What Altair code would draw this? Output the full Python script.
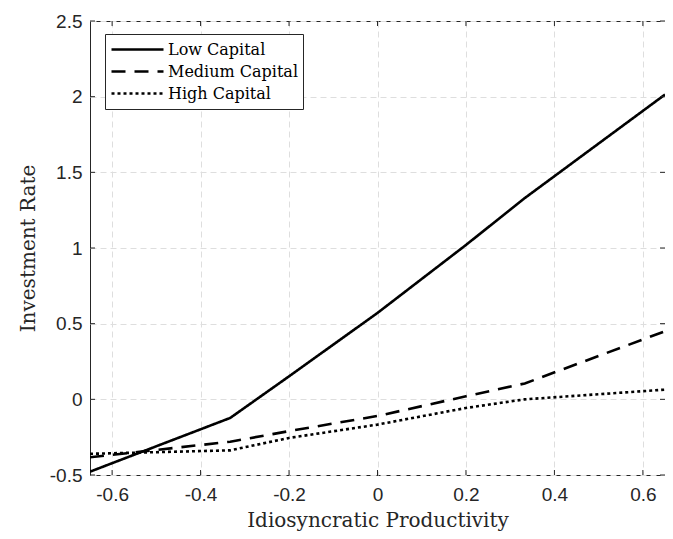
import altair as alt
import pandas as pd

# ---- data ----
x_vals = [-0.65, -0.333, -0.2, 0.0, 0.2, 0.333, 0.65]
low_capital = [-0.478, -0.123, 0.152, 0.571, 1.02, 1.33, 2.014]
medium_capital = [-0.383, -0.28, -0.21, -0.11, 0.02, 0.105, 0.45]
high_capital = [-0.36, -0.337, -0.255, -0.167, -0.057, 0.0, 0.064]
series_names = ["Low Capital", "Medium Capital", "High Capital"]
x_ticks = [-0.6, -0.4, -0.2, 0, 0.2, 0.4, 0.6]
y_ticks = [-0.5, 0, 0.5, 1, 1.5, 2, 2.5]

rows = []
for name, vals in zip(series_names, [low_capital, medium_capital, high_capital]):
    for xv, yv in zip(x_vals, vals):
        rows.append({"x": xv, "y": yv, "series": name})
df = pd.DataFrame(rows)
df_xt = pd.DataFrame({"x": x_ticks})
df_yt = pd.DataFrame({"y": y_ticks})

W, H = 575, 454
TICK = 5
AX = "#262626"
LABEL_EXPR = "replace(format(datum.value, '.1~f'), '\u2212', '-')"

xscale = alt.Scale(domain=[-0.65, 0.65], nice=False, zero=False)
yscale = alt.Scale(domain=[-0.5, 2.5], nice=False, zero=False)

xaxis = alt.Axis(values=x_ticks, title="Idiosyncratic Productivity", grid=True,
                 gridDash=[6, 4], gridColor="#dedede", gridWidth=1,
                 ticks=False, domain=False, labelPadding=10, titlePadding=6,
                 labelFlush=False, labelExpr=LABEL_EXPR)
yaxis = alt.Axis(values=y_ticks, title="Investment Rate", grid=True,
                 gridDash=[6, 4], gridColor="#dedede", gridWidth=1,
                 ticks=False, domain=False, labelPadding=8, titlePadding=11,
                 labelFlush=False, labelExpr=LABEL_EXPR)

lines = alt.Chart(df).mark_line(color="black", strokeWidth=2.6, clip=True).encode(
    x=alt.X("x:Q", scale=xscale, axis=xaxis),
    y=alt.Y("y:Q", scale=yscale, axis=yaxis),
    strokeDash=alt.StrokeDash(
        "series:N",
        scale=alt.Scale(domain=series_names, range=[[1, 0], [14, 9], [3, 3]]),
        legend=alt.Legend(title=None, orient="none", legendX=15, legendY=13,
                          symbolType="stroke", symbolSize=2704,
                          symbolStrokeWidth=2.6, symbolStrokeColor="black",
                          labelFont="DejaVu Serif", labelFontSize=16,
                          labelColor="black", strokeColor=AX, fillColor="white",
                          padding=5, rowPadding=1, clipHeight=21, labelOffset=3),
    ),
)

xt = alt.Chart(df_xt)
yt = alt.Chart(df_yt)
xs = alt.X("x:Q", scale=xscale, axis=xaxis)
ys = alt.Y("y:Q", scale=yscale, axis=yaxis)
tick_b = xt.mark_rule(color=AX, strokeWidth=1).encode(x=xs, y=alt.value(H), y2=alt.value(H - TICK))
tick_t = xt.mark_rule(color=AX, strokeWidth=1).encode(x=xs, y=alt.value(0), y2=alt.value(TICK))
tick_l = yt.mark_rule(color=AX, strokeWidth=1).encode(y=ys, x=alt.value(0), x2=alt.value(TICK))
tick_r = yt.mark_rule(color=AX, strokeWidth=1).encode(y=ys, x=alt.value(W), x2=alt.value(W - TICK))

chart = alt.layer(lines, tick_b, tick_t, tick_l, tick_r).properties(
    width=W, height=H,
    autosize=alt.AutoSizeParams(type="none"),
    padding={"left": 82, "top": 13, "right": 0, "bottom": 56},
).configure_view(
    stroke=AX, strokeWidth=1
).configure_axis(
    labelFont="Liberation Sans", labelFontSize=19, labelColor=AX,
    titleFont="DejaVu Serif", titleFontSize=20, titleColor=AX,
    titleFontWeight="normal",
)

chart.save("out.html", embed_options={"renderer": "svg", "actions": False})
